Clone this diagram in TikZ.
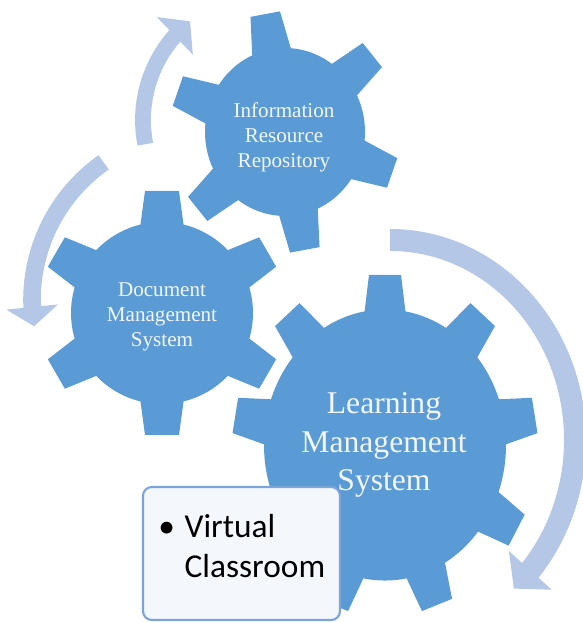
\documentclass[tikz,border=0pt]{standalone}
\usepackage{fontspec}
\setmainfont{Liberation Serif}
\newfontfamily\boxfont{Carlito}
\usetikzlibrary{arrows.meta,bending}

\definecolor{GearBlue}{HTML}{5B9BD5}
\definecolor{ArrowBlue}{HTML}{B4C7E7}
\definecolor{BoxLine}{HTML}{7BA4D9}
\definecolor{BoxFill}{HTML}{F4F7FC}
\definecolor{GearText}{HTML}{F2F6FB}

\begin{document}
\begin{tikzpicture}[x = 0.2mm, y = 0.2mm]
    \useasboundingbox (0, 0) rectangle (582, 622);
    \coordinate (irr arc) at (270, 502);
    \coordinate (dms arc) at (200, 322);
    \coordinate (lms arc) at (390, 182);
    % cycle arrows
    \draw [ArrowBlue, line width = 9pt, -{Triangle[width = 29pt, length = 12pt]}]
      (irr arc) ++(191:127) arc [start angle = 191, end angle = 129, radius = 127];
    \draw [ArrowBlue, line width = 10pt, -{Triangle[width = 29pt, length = 11pt]}]
      (dms arc) ++(125:168) arc [start angle = 125, end angle = 189, radius = 168];
    \draw [ArrowBlue, line width = 12.5pt, -{Triangle[width = 32pt, length = 14pt]}]
      (lms arc) ++(0, 200) arc [start angle = 90, end angle = -48, x radius = 185, y radius = 200];
    \begin{scope}[shift = {(285, 490)}, yscale = 1.05] % Information Resource Repository
        \fill [GearBlue] (0, 0) circle (80);
        \foreach \a in {100, 40, ..., -200}
          \fill [GearBlue, rotate = \a] (74, -20) -- (114, -15) -- (114, 15) -- (74, 20) -- cycle;
    \end{scope}
    \begin{scope}[shift = {(162, 309)}] % Document Management System
        \fill [GearBlue] (0, 0) circle (91);
        \foreach \a in {90, 30, ..., -240}
          \fill [GearBlue, rotate = \a] (85, -22) -- (122, -17) -- (122, 17) -- (85, 22) -- cycle;
    \end{scope}
    \begin{scope}[shift = {(385, 177)}, yscale = 1.12] % Learning Management System
        \fill [GearBlue] (0, 0) circle (121);
        \foreach \a in {90, 50, ..., -230}
          \fill [GearBlue, rotate = \a] (115, -21) -- (152, -16) -- (152, 16) -- (115, 21) -- cycle;
    \end{scope}
    \node [text = GearText, align = center, font = \fontsize{12}{14.2}\selectfont] (irr) at (284, 485)
      {Information\\Resource\\Repository};
    \node [text = GearText, align = center, font = \fontsize{12}{14.2}\selectfont] (dms) at (162, 305)
      {Document\\Management\\System};
    \node [text = GearText, align = center, font = \fontsize{18}{21.8}\selectfont] (lms) at (384, 177)
      {Learning\\Management\\System};
    \node [draw = BoxLine, line width = 1.2pt, fill = BoxFill, rounded corners = 5pt,
      minimum width = 3.94cm, minimum height = 2.66cm, inner sep = 0] (vcbox) at (241.5, 68.5) {};
    \node [anchor = base west, inner sep = 0, font = \boxfont\fontsize{19}{22.7}\selectfont] (vclabel) at (158, 84)
      {\begin{tabular}[t]{@{}l@{\hspace{5.5pt}}l@{}}\textbullet & Virtual\\ & Classroom\end{tabular}};
\end{tikzpicture}
\end{document}
